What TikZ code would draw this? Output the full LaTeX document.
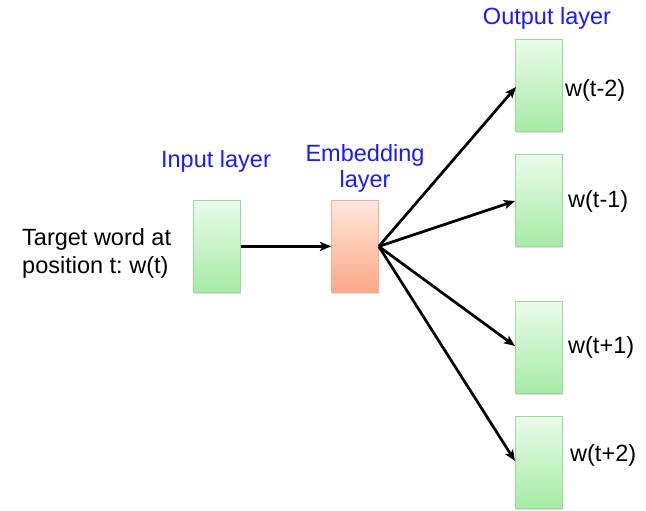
\documentclass[tikz,border=0pt]{standalone}
\usepackage{fontspec}
\setmainfont{Liberation Sans}
\frenchspacing
\usetikzlibrary{arrows.meta,shadows}
\definecolor{grtop}{HTML}{EAFBEA}
\definecolor{grbot}{HTML}{A6EBA6}
\definecolor{grline}{HTML}{9CD89C}
\definecolor{ortop}{HTML}{FFE8DE}
\definecolor{orbot}{HTML}{FBA886}
\definecolor{orline}{HTML}{F2AE8E}
\definecolor{lblue}{HTML}{1A1AFF}
\tikzset{
  greenbox/.style={draw=grline, line width=0.8pt, top color=grtop, bottom color=grbot,
    minimum width=47pt, minimum height=92pt, inner sep=0pt, anchor=north west,
    drop shadow={opacity=0.25, shadow xshift=0.6pt, shadow yshift=-1.5pt}},
  orangebox/.style={greenbox, draw=orline, top color=ortop, bottom color=orbot},
  txt/.style={font=\fontsize{23.5}{28}\selectfont, inner sep=0pt},
  bluetxt/.style={txt, text=lblue, anchor=base},
  arr/.style={line width=2.7pt, -{Stealth[length=11pt,width=9pt,inset=2.5pt]}}
}
\begin{document}
\begin{tikzpicture}[x=1pt,y=-1pt]
\useasboundingbox (0,0) rectangle (646,511);
% boxes
\node[greenbox] (in) at (193,200) {};
\node[orangebox] (emb) at (331,200) {};
\node[greenbox] (o1) at (515,39) {};
\node[greenbox] (o2) at (515,154) {};
\node[greenbox] (o3) at (515,301) {};
\node[greenbox] (o4) at (515,416) {};
% target points on output boxes
\coordinate (t1) at (516,87);
\coordinate (t2) at (515,201);
\coordinate (t3) at (515,346);
\coordinate (t4) at (515,461);
% arrows
\draw[arr] (in.east) -- (emb.west);
\draw[arr] (emb.east) -- (t1);
\draw[arr] (emb.east) -- (t2);
\draw[arr] (emb.east) -- (t3);
\draw[arr] (emb.east) -- (t4);
% texts
\node[txt, anchor=base west] (tw1) at (22,245) {Target word at};
\node[txt, anchor=base west] (tw2) at (22,273) {position t: w(t)};
\node[bluetxt] (inl) at (216,167) {Input layer};
\node[bluetxt] (emb1) at (365,161) {Embedding};
\node[bluetxt] (emb2) at (365,187) {layer};
\node[bluetxt] (outl) at (547,25) {Output layer};
\node[txt, anchor=west] (l1) at (565,90) {w(t-2)};
\node[txt, anchor=west] (l2) at (568,201) {w(t-1)};
\node[txt, anchor=west] (l3) at (568,347) {w(t+1)};
\node[txt, anchor=west] (l4) at (570,455) {w(t+2)};
\end{tikzpicture}
\end{document}
